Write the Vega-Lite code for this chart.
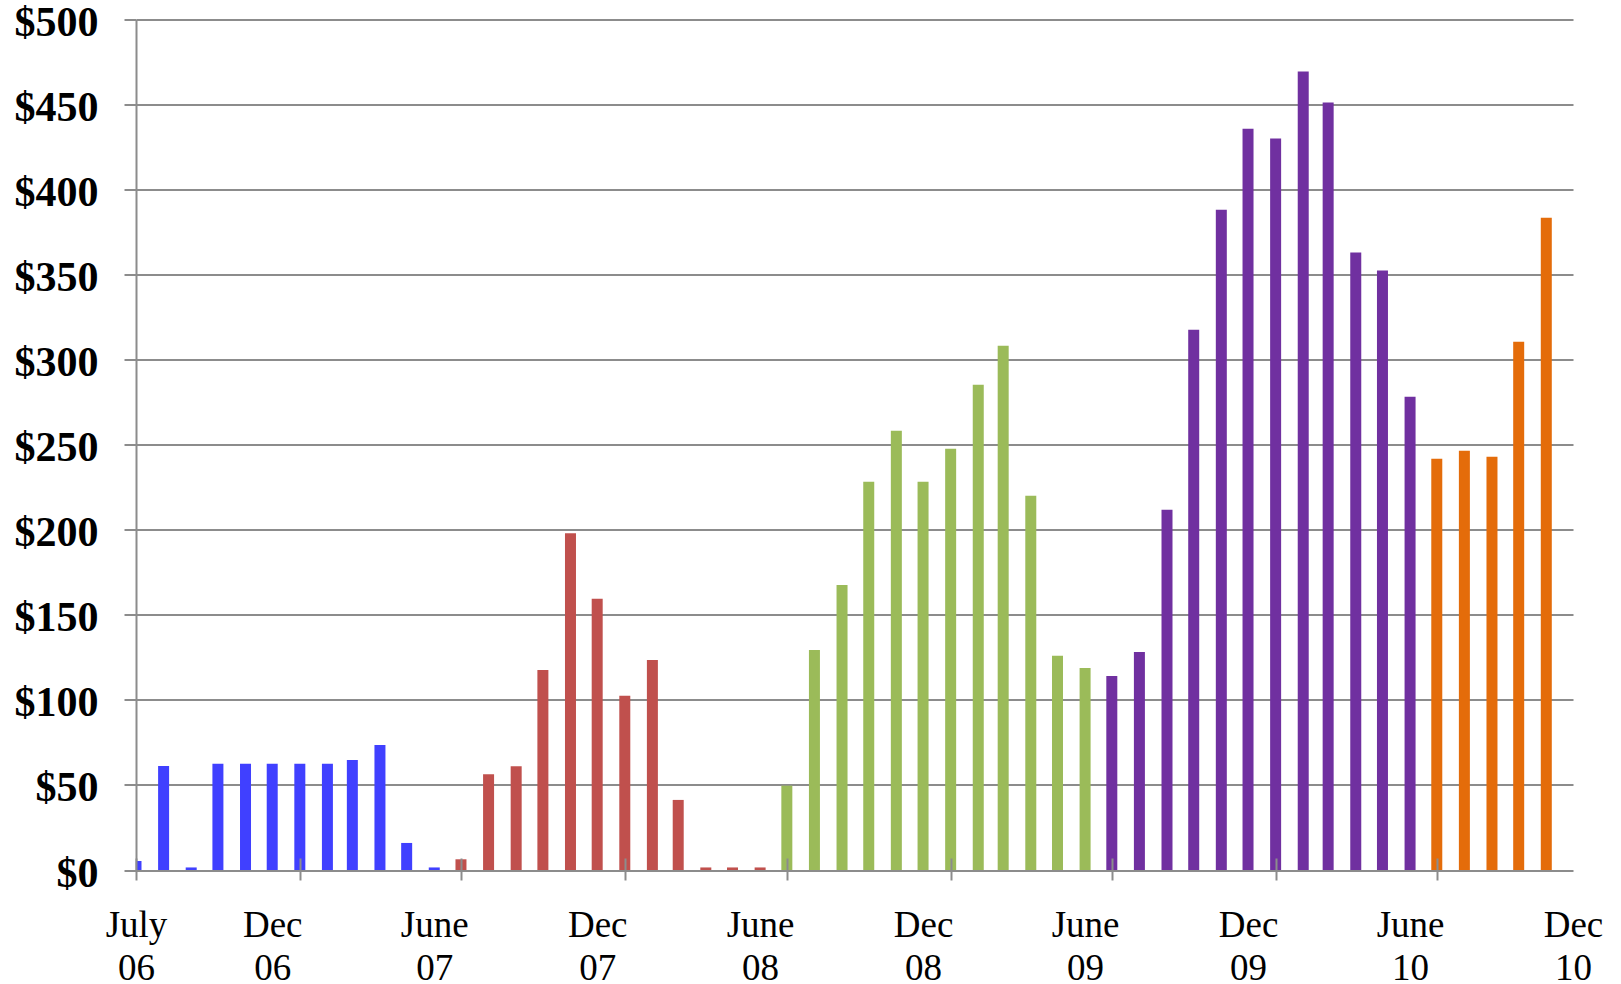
{
  "$schema": "https://vega.github.io/schema/vega-lite/v6.json",
  "width": 1437,
  "height": 850.5,
  "autosize": "none",
  "padding": {"left": 136, "top": 19.5, "right": 48, "bottom": 114},
  "background": "white",
  "config": {"view": {"stroke": null}},
  "data": {
    "values": [
      {"month": "2006-07-01", "value": 5.3, "fy": "FY07"},
      {"month": "2006-08-01", "value": 61.2, "fy": "FY07"},
      {"month": "2006-09-01", "value": 1.5, "fy": "FY07"},
      {"month": "2006-10-01", "value": 62.4, "fy": "FY07"},
      {"month": "2006-11-01", "value": 62.4, "fy": "FY07"},
      {"month": "2006-12-01", "value": 62.4, "fy": "FY07"},
      {"month": "2007-01-01", "value": 62.4, "fy": "FY07"},
      {"month": "2007-02-01", "value": 62.4, "fy": "FY07"},
      {"month": "2007-03-01", "value": 64.7, "fy": "FY07"},
      {"month": "2007-04-01", "value": 73.5, "fy": "FY07"},
      {"month": "2007-05-01", "value": 15.9, "fy": "FY07"},
      {"month": "2007-06-01", "value": 1.5, "fy": "FY07"},
      {"month": "2007-07-01", "value": 6.3, "fy": "FY08"},
      {"month": "2007-08-01", "value": 56.3, "fy": "FY08"},
      {"month": "2007-09-01", "value": 61.0, "fy": "FY08"},
      {"month": "2007-10-01", "value": 117.6, "fy": "FY08"},
      {"month": "2007-11-01", "value": 198.0, "fy": "FY08"},
      {"month": "2007-12-01", "value": 159.4, "fy": "FY08"},
      {"month": "2008-01-01", "value": 102.5, "fy": "FY08"},
      {"month": "2008-02-01", "value": 123.5, "fy": "FY08"},
      {"month": "2008-03-01", "value": 41.2, "fy": "FY08"},
      {"month": "2008-04-01", "value": 1.5, "fy": "FY08"},
      {"month": "2008-05-01", "value": 1.5, "fy": "FY08"},
      {"month": "2008-06-01", "value": 1.5, "fy": "FY08"},
      {"month": "2008-07-01", "value": 49.6, "fy": "FY09"},
      {"month": "2008-08-01", "value": 129.4, "fy": "FY09"},
      {"month": "2008-09-01", "value": 167.6, "fy": "FY09"},
      {"month": "2008-10-01", "value": 228.2, "fy": "FY09"},
      {"month": "2008-11-01", "value": 258.2, "fy": "FY09"},
      {"month": "2008-12-01", "value": 228.2, "fy": "FY09"},
      {"month": "2009-01-01", "value": 247.6, "fy": "FY09"},
      {"month": "2009-02-01", "value": 285.3, "fy": "FY09"},
      {"month": "2009-03-01", "value": 308.2, "fy": "FY09"},
      {"month": "2009-04-01", "value": 220.0, "fy": "FY09"},
      {"month": "2009-05-01", "value": 125.9, "fy": "FY09"},
      {"month": "2009-06-01", "value": 118.8, "fy": "FY09"},
      {"month": "2009-07-01", "value": 114.1, "fy": "FY10"},
      {"month": "2009-08-01", "value": 128.2, "fy": "FY10"},
      {"month": "2009-09-01", "value": 211.8, "fy": "FY10"},
      {"month": "2009-10-01", "value": 317.6, "fy": "FY10"},
      {"month": "2009-11-01", "value": 388.2, "fy": "FY10"},
      {"month": "2009-12-01", "value": 435.8, "fy": "FY10"},
      {"month": "2010-01-01", "value": 430.0, "fy": "FY10"},
      {"month": "2010-02-01", "value": 469.4, "fy": "FY10"},
      {"month": "2010-03-01", "value": 451.2, "fy": "FY10"},
      {"month": "2010-04-01", "value": 363.0, "fy": "FY10"},
      {"month": "2010-05-01", "value": 352.5, "fy": "FY10"},
      {"month": "2010-06-01", "value": 278.2, "fy": "FY10"},
      {"month": "2010-07-01", "value": 241.8, "fy": "FY11"},
      {"month": "2010-08-01", "value": 246.5, "fy": "FY11"},
      {"month": "2010-09-01", "value": 242.9, "fy": "FY11"},
      {"month": "2010-10-01", "value": 310.6, "fy": "FY11"},
      {"month": "2010-11-01", "value": 383.5, "fy": "FY11"}
    ]
  },
  "mark": {"type": "bar", "size": 11, "clip": true},
  "encoding": {
    "x": {
      "field": "month",
      "type": "temporal",
      "scale": {
        "type": "utc",
        "nice": false,
        "padding": 0,
        "domain": [
          {"year": 2006, "month": 7, "date": 1, "utc": true},
          {"year": 2010, "month": 12, "date": 1, "utc": true}
        ]
      },
      "axis": {
        "title": null,
        "values": [
          {"year": 2006, "month": 7, "date": 1, "utc": true},
          {"year": 2006, "month": 12, "date": 1, "utc": true},
          {"year": 2007, "month": 1, "date": 1, "utc": true},
          {"year": 2007, "month": 6, "date": 1, "utc": true},
          {"year": 2007, "month": 7, "date": 1, "utc": true},
          {"year": 2007, "month": 12, "date": 1, "utc": true},
          {"year": 2008, "month": 1, "date": 1, "utc": true},
          {"year": 2008, "month": 6, "date": 1, "utc": true},
          {"year": 2008, "month": 7, "date": 1, "utc": true},
          {"year": 2008, "month": 12, "date": 1, "utc": true},
          {"year": 2009, "month": 1, "date": 1, "utc": true},
          {"year": 2009, "month": 6, "date": 1, "utc": true},
          {"year": 2009, "month": 7, "date": 1, "utc": true},
          {"year": 2009, "month": 12, "date": 1, "utc": true},
          {"year": 2010, "month": 1, "date": 1, "utc": true},
          {"year": 2010, "month": 6, "date": 1, "utc": true},
          {"year": 2010, "month": 7, "date": 1, "utc": true},
          {"year": 2010, "month": 12, "date": 1, "utc": true}
        ],
        "domain": false,
        "grid": false,
        "offset": -12,
        "tickSize": 22,
        "tickWidth": 2,
        "tickColor": "#8c8c8c",
        "tickOpacity": {"condition": {"test": "utcmonth(datum.value) % 6 == 0", "value": 1}, "value": 0},
        "labelExpr": "utcmonth(datum.value) % 6 == 0 && utcyear(datum.value) > 2006 ? '' : [utcmonth(datum.value) == 6 ? 'July' : utcmonth(datum.value) == 5 ? 'June' : 'Dec', utcFormat(datum.value, '%y')]",
        "labelFont": "Liberation Serif",
        "labelFontSize": 37,
        "labelColor": "black",
        "labelLineHeight": 43,
        "labelPadding": 27,
        "labelOverlap": false,
        "labelFlush": false,
        "labelBound": false,
        "zindex": 1
      }
    },
    "y": {
      "field": "value",
      "type": "quantitative",
      "scale": {"domain": [0, 500], "nice": false},
      "axis": {
        "title": null,
        "values": [0, 50, 100, 150, 200, 250, 300, 350, 400, 450, 500],
        "domain": true,
        "domainColor": "#8c8c8c",
        "domainWidth": 2,
        "grid": true,
        "gridColor": "#8c8c8c",
        "gridWidth": 2,
        "tickSize": 12,
        "tickColor": "#8c8c8c",
        "tickWidth": 2,
        "labelExpr": "'$' + datum.value",
        "labelFont": "Liberation Serif",
        "labelFontWeight": "bold",
        "labelFontSize": 42,
        "labelOffset": 3,
        "labelColor": "black",
        "labelPadding": 26,
        "labelOverlap": false,
        "labelBound": false
      }
    },
    "color": {
      "field": "fy",
      "type": "nominal",
      "scale": {
        "domain": ["FY07", "FY08", "FY09", "FY10", "FY11"],
        "range": ["#4040ff", "#c0504d", "#9bbb59", "#7030a0", "#e46c0a"]
      },
      "legend": null
    }
  }
}
